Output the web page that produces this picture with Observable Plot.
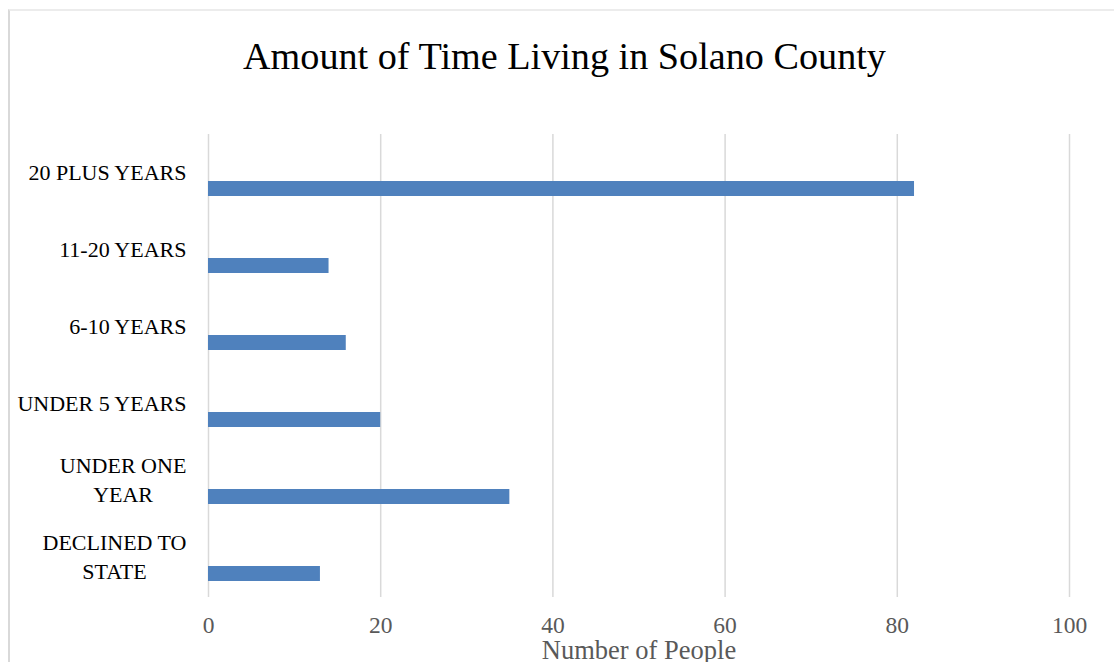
<!DOCTYPE html>
<html><head><meta charset="utf-8">
<script src="https://cdn.jsdelivr.net/npm/d3@7"></script>
<script src="https://cdn.jsdelivr.net/npm/@observablehq/plot@0.6"></script>
<style>
html,body{margin:0;padding:0;background:#fff;overflow:hidden;}
#wrap{position:relative;width:1114px;height:662px;overflow:hidden;font-family:"Liberation Serif",serif;}
#frame{position:absolute;left:8px;top:9px;width:1300px;height:800px;border-left:2px solid #d9d9d9;border-top:2px solid #ececec;box-sizing:border-box;}
#title{position:relative;height:100px;box-sizing:border-box;padding-top:37px;width:1129px;text-align:center;font-size:38.2px;line-height:38px;color:#000;white-space:nowrap;}
#chart{position:relative;}
</style></head>
<body><div id="wrap"><div id="frame"></div><div id="title"></div><div id="chart"></div></div>
<script>
const titleText = "Amount of Time Living in Solano County";
const categories = ["20 PLUS YEARS","11-20 YEARS","6-10 YEARS","UNDER 5 YEARS","UNDER ONE YEAR","DECLINED TO STATE"];
const tickLabels = ["20 PLUS YEARS","11-20 YEARS","6-10 YEARS","UNDER 5 YEARS","UNDER ONE\nYEAR","DECLINED TO\nSTATE"];
const values = [82,14,16,20,35,13];
const xTicks = [0,20,40,60,80,100];
const xTitle = "Number of People";

document.getElementById("title").textContent = titleText;
const data = categories.map((c,i)=>({category:c, value:values[i]}));

const chart = Plot.plot({
  width:1114, height:562,
  marginTop:34, marginBottom:65, marginLeft:208, marginRight:45,
  style:{fontFamily:'"Liberation Serif", serif', background:"transparent", overflow:"visible"},
  x:{domain:[0,100]},
  y:{domain:categories, padding:0},
  marks:[
    Plot.gridX(xTicks,{stroke:"#d9d9d9", strokeOpacity:1, strokeWidth:1.5}),
    Plot.barX(data,{x:"value", y:"category", fill:"#4f81bd", insetTop:46, insetBottom:16}),
    Plot.axisX({ticks:xTicks, tickSize:0, tickPadding:19, fontSize:23.5, color:"#595959", label:null}),
    Plot.axisY({tickSize:0, tickPadding:22, dy:-4, fontSize:22, color:"#000", textAnchor:"end", lineHeight:1.35, label:null,
      tickFormat:d=>tickLabels[categories.indexOf(d)]}),
    Plot.text([xTitle],{text:d=>d, frameAnchor:"bottom", dy:53, fontSize:26.5, fill:"#595959", lineAnchor:"middle"})
  ]
});
document.getElementById("chart").appendChild(chart);

// centre the lines of wrapped category labels on each other, as the reference does
chart.querySelectorAll('g[aria-label="y-axis tick label"] text').forEach(t => {
  const spans = t.querySelectorAll("tspan");
  if (spans.length > 1) {
    const w = t.getBBox().width;
    t.setAttribute("text-anchor", "middle");
    t.setAttribute("transform", (t.getAttribute("transform") || "") + ` translate(${-w / 2},0)`);
  }
});
</script>
</body></html>
